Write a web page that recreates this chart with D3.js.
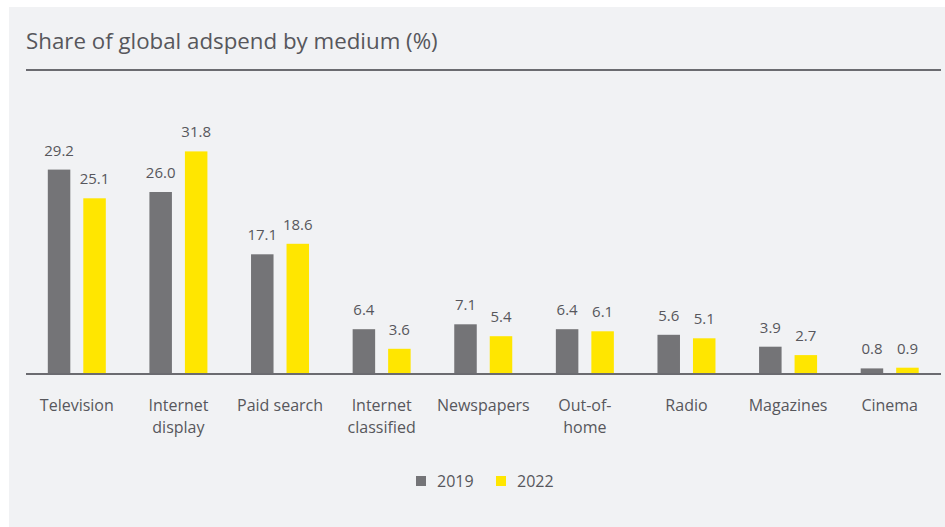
<!DOCTYPE html>
<html>
<head>
<meta charset="utf-8">
<script src="https://cdn.jsdelivr.net/npm/d3@7"></script>
<style>
    body { margin: 0; background: #ffffff; }
    svg { display: block; }
</style>
</head>
<body>
<svg id="chart" width="945" height="527"></svg>
<script>
var categories = [
    ["Television"], ["Internet", "display"], ["Paid search"], ["Internet", "classified"],
    ["Newspapers"], ["Out-of-", "home"], ["Radio"], ["Magazines"], ["Cinema"]
];
var series = ["2019", "2022"];
var values2019 = [29.2, 26.0, 17.1, 6.4, 7.1, 6.4, 5.6, 3.9, 0.8];
var values2022 = [25.1, 31.8, 18.6, 3.6, 5.4, 6.1, 5.1, 2.7, 0.9];
var colors = ["#747477", "#ffe600"];

var textColor = "#57575c",
    fontFamily = "'Open Sans', 'Noto Sans', sans-serif";

var svg = d3.select("#chart");

// light panel behind everything
svg.append("rect")
    .attr("x", 9).attr("y", 7)
    .attr("width", 945 - 9).attr("height", 527 - 7)
    .attr("fill", "#f1f2f4");

svg.append("text")
    .attr("x", 26).attr("y", 49)
    .attr("fill", textColor)
    .style("font-family", fontFamily)
    .style("font-size", "22.3px")
    .text("Share of global adspend by medium (%)");

svg.append("line")
    .attr("x1", 26).attr("x2", 941)
    .attr("y1", 70).attr("y2", 70)
    .attr("stroke", "#6b6b70")
    .attr("stroke-width", 2);

var baseline = 374;

var x0 = d3.scaleBand()
    .domain(d3.range(categories.length))
    .range([26, 940.5]);

var x1 = d3.scaleBand()
    .domain(series)
    .range([-29, 29])
    .paddingInner(0.366);

var y = d3.scaleLinear()
    .domain([0, 32])
    .range([baseline, baseline - 224]);

var data = categories.map(function (c, i) {
    return { i: i, vals: [values2019[i], values2022[i]] };
});

var groups = svg.selectAll("g.group")
    .data(data)
    .enter().append("g")
    .attr("class", "group")
    .attr("transform", function (d) { return "translate(" + (x0(d.i) + x0.bandwidth() / 2) + ",0)"; });

groups.selectAll("rect")
    .data(function (d) { return d.vals.map(function (v, k) { return { k: k, v: v }; }); })
    .enter().append("rect")
    .attr("x", function (d) { return x1(series[d.k]); })
    .attr("width", x1.bandwidth())
    .attr("y", function (d) { return y(d.v); })
    .attr("height", function (d) { return baseline - y(d.v); })
    .attr("fill", function (d) { return colors[d.k]; });

groups.selectAll("text.value")
    .data(function (d) { return d.vals.map(function (v, k) { return { k: k, v: v }; }); })
    .enter().append("text")
    .attr("class", "value")
    .attr("x", function (d) { return x1(series[d.k]) + x1.bandwidth() / 2; })
    .attr("y", function (d) { return y(d.v) - 14; })
    .attr("text-anchor", "middle")
    .attr("fill", textColor)
    .style("font-family", fontFamily)
    .style("font-size", "15px")
    .text(function (d) { return d3.format(".1f")(d.v); });

// category labels, one or two lines
groups.append("text")
    .attr("text-anchor", "middle")
    .attr("fill", textColor)
    .style("font-family", fontFamily)
    .style("font-size", "16px")
    .selectAll("tspan")
    .data(function (d) { return categories[d.i]; })
    .enter().append("tspan")
    .attr("x", 0)
    .attr("y", function (d, k) { return 411 + k * 22; })
    .text(function (d) { return d; });

svg.append("line")
    .attr("x1", 26).attr("x2", 941)
    .attr("y1", baseline).attr("y2", baseline)
    .attr("stroke", "#6b6b70")
    .attr("stroke-width", 2);

// legend
var legend = svg.selectAll("g.legend")
    .data(series)
    .enter().append("g")
    .attr("class", "legend")
    .attr("transform", function (d, k) { return "translate(" + (416 + k * 80) + ",476)"; });

legend.append("rect")
    .attr("width", 10).attr("height", 10)
    .attr("fill", function (d, k) { return colors[k]; });

legend.append("text")
    .attr("x", 21).attr("y", 10.5)
    .attr("fill", textColor)
    .style("font-family", fontFamily)
    .style("font-size", "16px")
    .text(function (d) { return d; });
</script>
</body>
</html>
